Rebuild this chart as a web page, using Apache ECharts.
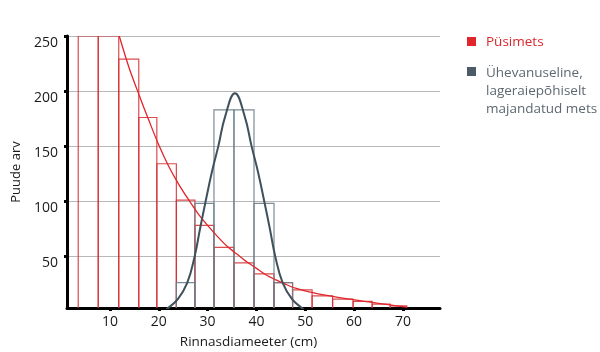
<!DOCTYPE html>
<html>
<head>
<meta charset="utf-8">
<script src="https://cdn.jsdelivr.net/npm/echarts@6/dist/echarts.min.js"></script>
<style>
  html, body { margin: 0; padding: 0; background: #fff; }
  #chart { width: 600px; height: 352px; }
</style>
</head>
<body>
<div id="chart"></div>
<script>
// class edges (cm) shared by both histograms
const binEdges = [3.5, 7.6, 11.8, 15.9, 19.6, 23.6, 27.4, 31.3, 35.4, 39.5, 43.6, 47.4, 51.4, 55.6, 59.8, 63.7, 67.4, 70.8]
const pysiCounts = [250, 250, 229, 176, 134, 101, 78, 58, 44, 34, 26, 19.5, 14, 11, 9, 6.5, 5]
const yhevCounts = [null, null, null, null, null, 26, 98, 183, 183, 98, 26, null, null, null, null, null, null]

// fitted curves
const pysiCurveX = [11.9, 14, 16, 18, 20, 22, 24, 26, 28, 30, 32, 34, 36, 38, 40, 42, 44, 46, 48, 51, 55, 59, 63, 67, 70.8]
const pysiCurveY = [250, 220, 196, 173, 151, 132, 116, 102, 89, 78, 68, 59, 52, 45, 39, 33, 28.5, 24.5, 21, 17.5, 14, 11, 8.5, 6, 3.7]
const yhevCurveX = [21.1, 21.9, 23.9, 25.8, 27.35, 28.45, 29.6, 30.9, 32.2, 33.6, 35.6, 37.6, 39.0, 40.3, 41.6, 42.75, 43.85, 45.4, 47.3, 49.3, 50.1]
const yhevCurveY = [0, 3, 11, 25.5, 50, 75, 100, 127, 150, 177, 198, 177, 150, 127, 100, 75, 50, 25.5, 11, 3, 0]

const xTicks = [10, 20, 30, 40, 50, 60, 70]
const yTicks = [50, 100, 150, 200, 250]

const labels = {
  pysi: 'Püsimets',
  yhev: 'Ühevanuseline,\nlageraiepõhiselt\nmajandatud mets',
  x: 'Rinnasdiameeter (cm)',
  y: 'Puude arv'
}

const RED = '#e0262b'
const RED_BAR = 'rgba(212, 44, 48, 0.85)'
const GREY = '#3f515c'
const GREY_BAR = 'rgba(110, 128, 140, 0.9)'
const FONT = '"Open Sans", "Noto Sans", sans-serif'

function histData(counts) {
  const out = []
  counts.forEach((v, i) => {
    if (v != null) out.push([binEdges[i], binEdges[i + 1], v])
  })
  return out
}

function histSeries(name, counts, color) {
  return {
    type: 'custom',
    name: name,
    clip: true,
    silent: true,
    encode: { x: [0, 1], y: 2 },
    data: histData(counts),
    renderItem: function (params, api) {
      const p0 = api.coord([api.value(0), api.value(2)])
      const p1 = api.coord([api.value(1), 0])
      return {
        type: 'rect',
        shape: { x: p0[0], y: p0[1], width: p1[0] - p0[0], height: p1[1] - p0[1] },
        style: { fill: 'none', stroke: color, lineWidth: 1.2 }
      }
    }
  }
}

function curveSeries(name, xs, ys, color, width, smooth) {
  return {
    type: 'line',
    name: name,
    smooth: smooth,
    showSymbol: false,
    silent: true,
    clip: true,
    data: xs.map((x, i) => [x, ys[i]]),
    lineStyle: { color: color, width: width }
  }
}

const tickFont = { fontFamily: FONT, fontSize: 14, color: '#1a1a1a' }
const nameFont = { fontFamily: FONT, fontSize: 13.5, color: '#1a1a1a' }

const chart = echarts.init(document.getElementById('chart'), null, { renderer: 'canvas' })
chart.setOption({
  animation: false,
  backgroundColor: '#fff',
  grid: { left: 67, top: 36, right: 160, bottom: 44, containLabel: false, outerBoundsMode: 'none' },
  xAxis: {
    type: 'value',
    min: 1.2,
    max: 77.6,
    name: labels.x,
    nameLocation: 'middle',
    nameGap: 27,
    nameTextStyle: Object.assign({ padding: [0, 10, 0, 0] }, nameFont),
    axisLine: { lineStyle: { color: '#000', width: 3 } },
    axisTick: { customValues: xTicks, length: 3, lineStyle: { color: '#000', width: 3 } },
    axisLabel: Object.assign({ customValues: xTicks, margin: 7 }, tickFont),
    splitLine: { show: false }
  },
  yAxis: {
    type: 'value',
    min: 3,
    max: 250,
    name: labels.y,
    nameLocation: 'middle',
    nameGap: 36,
    nameTextStyle: Object.assign({}, nameFont, { fontSize: 13 }),
    axisLine: { show: true, lineStyle: { color: '#000', width: 3 } },
    axisTick: { show: true, customValues: yTicks, length: 3, lineStyle: { color: '#000', width: 3 } },
    axisLabel: Object.assign({ customValues: yTicks, margin: 9, verticalAlign: 'top', lineHeight: 14 }, tickFont),
    splitLine: { show: true, lineStyle: { color: '#b8b8b8', width: 1 } }
  },
  series: [
    histSeries(labels.pysi, pysiCounts, RED_BAR),
    histSeries(labels.yhev, yhevCounts, GREY_BAR),
    curveSeries(labels.pysi, pysiCurveX, pysiCurveY, RED, 1.3, 0.3),
    curveSeries(labels.yhev, yhevCurveX, yhevCurveY, GREY, 2, 0.45)
  ],
  graphic: [
    { type: 'rect', left: 467, top: 37, shape: { width: 9, height: 9 }, style: { fill: RED } },
    { type: 'text', left: 486, top: 35, style: { text: labels.pysi, fill: '#d9282d', font: '13.5px ' + FONT } },
    { type: 'rect', left: 467, top: 67, shape: { width: 9, height: 9 }, style: { fill: '#4b5c68' } },
    { type: 'text', left: 486, top: 64, style: { text: labels.yhev, fill: '#5d6970', font: '13.5px ' + FONT, lineHeight: 18 } }
  ]
})
</script>
</body>
</html>
